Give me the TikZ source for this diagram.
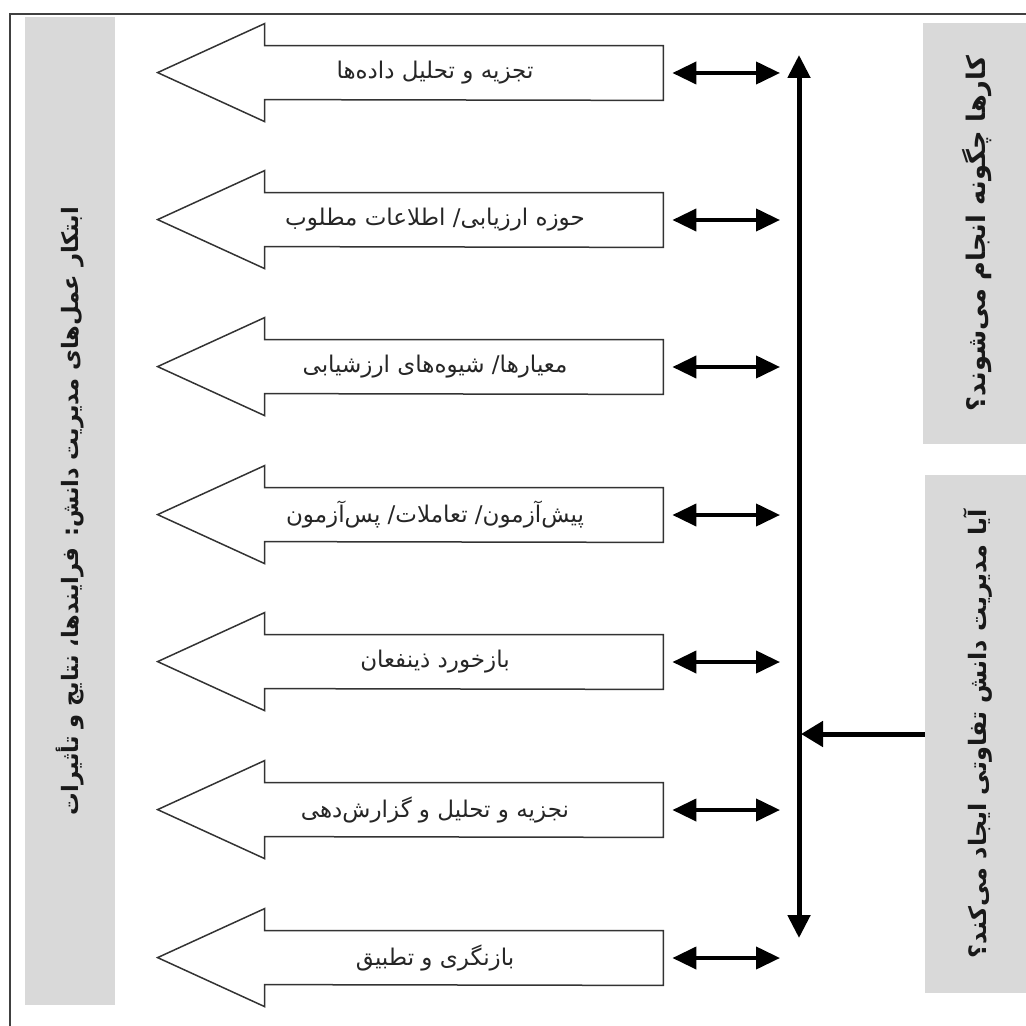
\documentclass[tikz,border=0pt]{standalone}
\usepackage{fontspec}
\usetikzlibrary{arrows.meta, positioning}

\newfontfamily\fa[Script=Arabic]{DejaVu Sans}
\TeXXeTstate=1

\begin{document}
\begin{tikzpicture}[
    x=0.5pt, y=-0.5pt,
    frame/.style={draw=black!75, line width=1pt},
    panel/.style={fill=black!15, inner sep=0pt},
    body/.style={rectangle, minimum width=199pt, minimum height=27pt, inner sep=0pt},
    outline/.style={draw=black!80, line width=0.75pt, line join=miter},
    lbl/.style={font=\fa\fontsize{11.5}{13}\selectfont, text=black!85, xshift=-14.5pt},
    side/.style={rotate=90, font=\fa\bfseries, text=black!90},
    dbl/.style={{Triangle[length=12pt,width=11pt]}-{Triangle[length=12pt,width=11pt]},
                line width=2pt, shorten <=4.5pt, shorten >=9.5pt},
    spine/.style={{Triangle[length=11.5pt,width=11pt]}-{Triangle[length=11.5pt,width=11pt]},
                line width=2.5pt},
    feed/.style={-{Triangle[length=11pt,width=12.5pt]}, line width=2.5pt, shorten >=1pt}
]
    \useasboundingbox (0,0) rectangle (1026,1026);
    \draw[frame] (10,14) rectangle (1040,1040);

    % side panels
    \node[panel, minimum width=45pt, minimum height=494pt,
          label={[side, font=\fa\bfseries\fontsize{11.3}{13}\selectfont]center:{\beginR ابتکار عمل‌های مدیریت دانش: فرایندها، نتایج و تأثیرات\endR}}]   (init) at (70,511)      {};
    \node[panel, minimum width=53.5pt, minimum height=210.5pt,
          label={[side, font=\fa\bfseries\fontsize{12.8}{15}\selectfont]center:{\beginR کارها چگونه انجام می‌شوند؟\endR}}]                           (how)  at (976.5,233.5) {};
    \node[panel, minimum width=52.5pt, minimum height=259pt,
          label={[side, font=\fa\bfseries\fontsize{12}{14}\selectfont]center:{\beginR آیا مدیریت دانش تفاوتی ایجاد می‌کند؟\endR}}]                   (diff) at (977.5,734)   {};

    % arrow bodies
    \node[body, label={[lbl]center:{\beginR تجزیه و تحلیل داده‌ها\endR}}]          (analysis) at (464,73)  {};
    \node[body, label={[lbl]center:{\beginR حوزه ارزیابی/ اطلاعات مطلوب\endR}}]    (scope)    at (464,220) {};
    \node[body, label={[lbl]center:{\beginR معیارها/ شیوه‌های ارزشیابی\endR}}]      (criteria) at (464,367) {};
    \node[body, label={[lbl]center:{\beginR پیش‌آزمون/ تعاملات/ پس‌آزمون\endR}}]   (tests)    at (464,515) {};
    \node[body, label={[lbl]center:{\beginR بازخورد ذینفعان\endR}}]                (feedback) at (464,662) {};
    \node[body, label={[lbl]center:{\beginR نجزیه و تحلیل و گزارش‌دهی\endR}}]      (report)   at (464,810) {};
    \node[body, label={[lbl]center:{\beginR بازنگری و تطبیق\endR}}]                (review)   at (464,958) {};

    \coordinate (top)    at (799,55);
    \coordinate (bottom) at (799,938);

    \foreach \n in {analysis,scope,criteria,tests,feedback,report,review}{
        \draw[outline] (\n.north east) -- (\n.north west) -- ++(0,-22) -- ++(-107,49)
                       -- ++(107,49) -- ++(0,-22) -- (\n.south east) -- cycle;
        \draw[dbl] (\n.east) -- (\n.east -| top);
    }

    \draw[spine] (bottom) -- (top);
    \draw[feed]  (diff.west) -- (diff.west -| top);
\end{tikzpicture}
\end{document}
